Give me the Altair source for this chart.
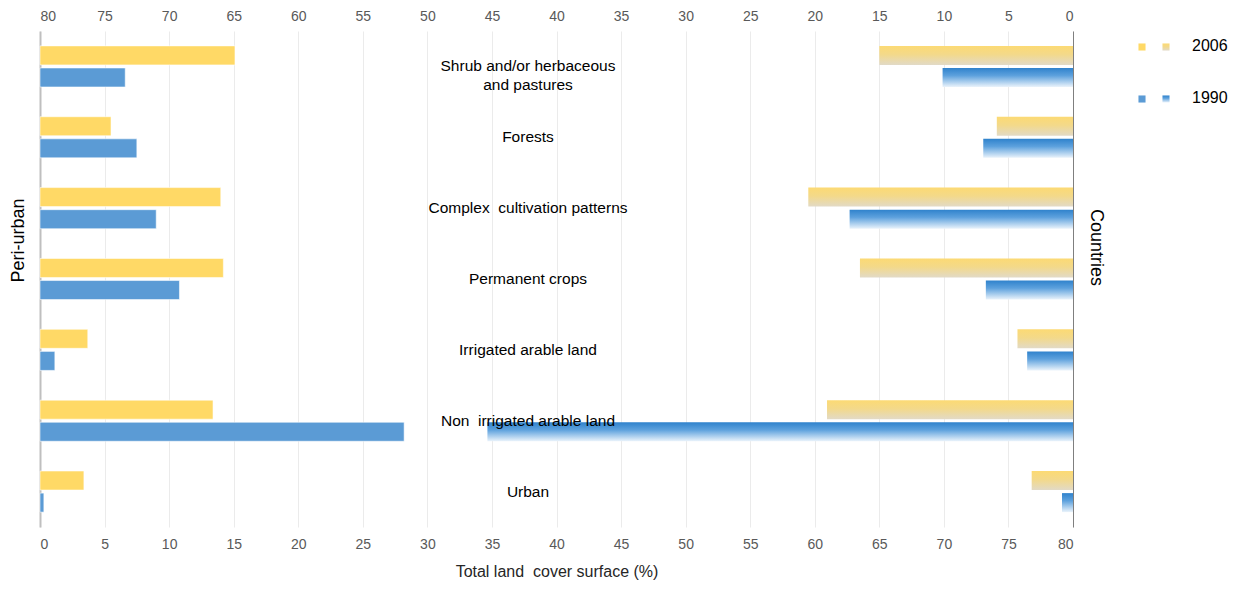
import altair as alt
import pandas as pd

categories = [
    "Shrub and/or herbaceous and pastures",
    "Forests",
    "Complex cultivation patterns",
    "Permanent crops",
    "Irrigated arable land",
    "Non irrigated arable land",
    "Urban",
]
category_labels = [
    "Shrub and/or herbaceous\nand pastures",
    "Forests",
    "Complex\u00a0 cultivation patterns",
    "Permanent crops",
    "Irrigated arable land",
    "Non\u00a0 irrigated arable land",
    "Urban",
]
years = ["2006", "1990"]

peri_2006 = [15.1, 5.5, 14.0, 14.2, 3.7, 13.4, 3.4]
peri_1990 = [6.6, 7.5, 9.0, 10.8, 1.15, 28.2, 0.3]
countries_2006 = [15.0, 5.9, 20.5, 16.5, 4.3, 19.05, 3.2]
countries_1990 = [10.1, 6.95, 17.3, 6.75, 3.55, 45.35, 0.85]

tick_values = list(range(0, 81, 5))

rows = []
for i, c in enumerate(categories):
    rows.append(dict(category=c, year="2006", peri=peri_2006[i], countries=countries_2006[i]))
    rows.append(dict(category=c, year="1990", peri=peri_1990[i], countries=countries_1990[i]))
df = pd.DataFrame(rows)
labels_df = pd.DataFrame({"category": categories, "label": category_labels})
legend_df = pd.DataFrame({"year": years})

FONT = "Liberation Sans"
W, H = 1033, 496

YELLOW = "#FFD966"
BLUE = "#5B9BD5"
grad_2006 = alt.LinearGradient(
    gradient="linear", x1=0, y1=0, x2=0, y2=1,
    stops=[alt.GradientStop(color="#FCDA74", offset=0),
           alt.GradientStop(color="#F3D98A", offset=0.45),
           alt.GradientStop(color="#E2DAC6", offset=1)],
)
grad_1990 = alt.LinearGradient(
    gradient="linear", x1=0, y1=0, x2=0, y2=1,
    stops=[alt.GradientStop(color="#2F82CC", offset=0),
           alt.GradientStop(color="#5DA1DD", offset=0.4),
           alt.GradientStop(color="#EAF3FB", offset=1)],
)

y_scale = alt.Scale(paddingInner=0.42, paddingOuter=0.21)
yoff = alt.YOffset("year:N", sort=years,
                   scale=alt.Scale(domain=years, paddingInner=0.14, paddingOuter=0))

# ---------- left side: Peri-urban ----------
left = alt.Chart(df).mark_bar(
    stroke="white", strokeWidth=1, strokeOpacity=0.55
).encode(
    x=alt.X("peri:Q", stack=None,
            scale=alt.Scale(domain=[0, 80], nice=False, zero=True),
            axis=alt.Axis(orient="bottom", values=tick_values,
                          title="Total land\u00a0 cover surface (%)",
                          grid=True, gridColor="#EBEBEB", gridWidth=1,
                          domain=False, ticks=False, labelPadding=10,
                          labelFontSize=14, labelColor="#595959", labelFont=FONT,
                          titleFont=FONT, titleFontSize=16, titleFontWeight="normal",
                          titleColor="#262626", titlePadding=12)),
    y=alt.Y("category:N", sort=categories, scale=y_scale,
            axis=alt.Axis(orient="left", title="Peri-urban", labels=False, ticks=False,
                          grid=False, domain=True, domainColor="#BFBFBF", domainWidth=2,
                          titleFont=FONT, titleFontSize=18, titleFontWeight="normal",
                          titleColor="#000000", titlePadding=13, titleY=209)),
    yOffset=yoff,
    color=alt.Color("year:N", scale=alt.Scale(domain=years, range=[YELLOW, BLUE]), legend=None),
)

# ---------- right side: Countries ----------
right_base = alt.Chart(df).encode(
    x=alt.X("countries:Q", stack=None,
            scale=alt.Scale(domain=[0, 80], reverse=True, nice=False, zero=True),
            axis=alt.Axis(orient="top", values=tick_values, title=None, grid=False,
                          domain=False, ticks=False, labelPadding=8,
                          labelFontSize=14, labelColor="#595959", labelFont=FONT)),
    y=alt.Y("category:N", sort=categories, scale=y_scale,
            axis=alt.Axis(orient="right", title="Countries", labels=False, ticks=False,
                          grid=False, domain=True, domainColor="#7F7F7F", domainWidth=1,
                          titleFont=FONT, titleFontSize=18, titleFontWeight="normal",
                          titleColor="#000000", titlePadding=13, titleY=216)),
    yOffset=yoff,
)
right = alt.layer(
    right_base.mark_bar(color=grad_2006).transform_filter(alt.datum.year == "2006"),
    right_base.mark_bar(color=grad_1990).transform_filter(alt.datum.year == "1990"),
)

# ---------- category labels in the middle ----------
label_text = alt.Chart(labels_df).mark_text(
    font=FONT, fontSize=15.5, color="#000000", lineBreak="\n", align="center",
    baseline="middle", lineHeight=19
).encode(
    x=alt.value(488),
    y=alt.Y("category:N", sort=categories, scale=y_scale, axis=None),
    text="label:N",
)

# ---------- legend ----------
leg_y = alt.Y("year:N", sort=years,
              scale=alt.Scale(type="point", domain=years, range=[16, 68], padding=0),
              axis=None)
leg_base = alt.Chart(legend_df).encode(y=leg_y)
legend = alt.layer(
    leg_base.mark_square(size=50, opacity=1).encode(
        x=alt.value(W + 69),
        color=alt.Color("year:N", scale=alt.Scale(domain=years, range=[YELLOW, BLUE]), legend=None)),
    leg_base.mark_square(size=50, opacity=1, color=grad_2006).encode(x=alt.value(W + 93))
        .transform_filter(alt.datum.year == "2006"),
    leg_base.mark_square(size=50, opacity=1, color=grad_1990).encode(x=alt.value(W + 93))
        .transform_filter(alt.datum.year == "1990"),
    leg_base.mark_text(align="left", baseline="middle", font=FONT, fontSize=16,
                       color="#000000", dy=-1).encode(x=alt.value(W + 119), text="year:N"),
)

chart = alt.layer(left, right, label_text, legend).resolve_scale(
    x="independent", y="independent"
).properties(
    width=W, height=H,
    padding={"left": 32, "top": 23, "right": 159, "bottom": 54},
    autosize=alt.AutoSizeParams(type="none"),
).configure_view(stroke=None)

chart.save("out.html", embed_options={"renderer": "svg", "actions": False})
